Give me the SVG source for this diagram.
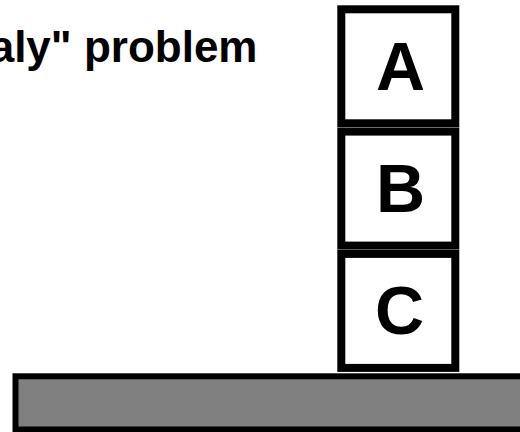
<svg xmlns="http://www.w3.org/2000/svg" width="520" height="432" viewBox="0 0 520 432">
<style>
.box{fill:#fff;stroke:#000;stroke-width:8}
.lbl{font-family:"Liberation Sans",Arial,sans-serif;font-weight:bold;font-size:68px;text-anchor:middle;fill:#000}
.title{font-family:"Liberation Sans",Arial,sans-serif;font-weight:bold;font-size:44px;fill:#000}
</style>
<rect width="520" height="432" fill="#fff"/>
<text class="title" x="257.5" y="62" text-anchor="end">aly" problem</text>
<g id="table"><rect x="15.5" y="376.3" width="520" height="53.2" fill="#808080" stroke="#000" stroke-width="6"/></g>
<g id="blockA"><rect class="box" x="341.3" y="9.3" width="114" height="114"/><text class="lbl" x="400.5" y="90">A</text></g>
<g id="blockB"><rect class="box" x="341.3" y="131.6" width="114" height="114"/><text class="lbl" x="400.5" y="212">B</text></g>
<g id="blockC"><rect class="box" x="341.3" y="253.9" width="114" height="114"/><text class="lbl" x="399.5" y="334">C</text></g>
<g id="connectors"></g>
</svg>
